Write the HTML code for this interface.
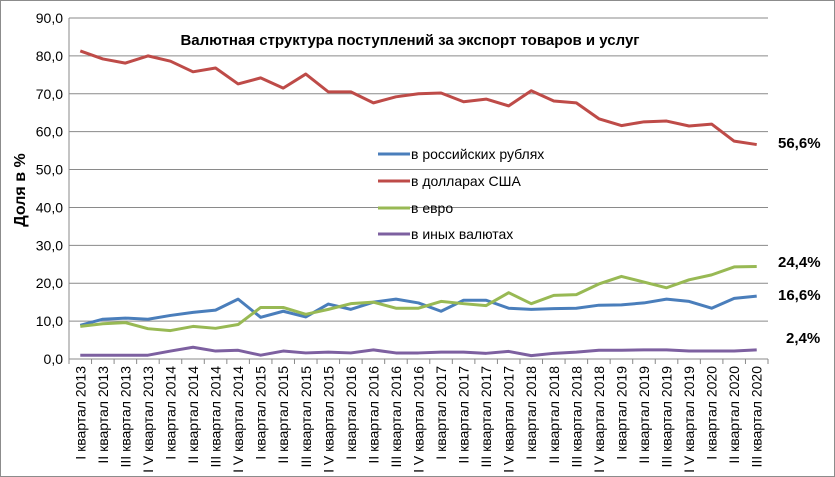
<!DOCTYPE html>
<html><head><meta charset="utf-8"><style>
body{margin:0;background:#fff}
svg{display:block;font-family:"Liberation Sans","DejaVu Sans",sans-serif}
</style></head><body>
<svg id="chart" width="835" height="477" viewBox="0 0 835 477">
<rect x="0.5" y="0.5" width="834" height="476" fill="#fff" stroke="#8c8c8c"/>
<text x="410" y="45" text-anchor="middle" font-weight="bold" font-size="15">Валютная структура поступлений за экспорт  товаров и услуг</text>
<text transform="translate(25,190) rotate(-90)" text-anchor="middle" font-weight="bold" font-size="16">Доля в %</text>
<g id="grid"></g><g id="lines"></g><g id="xl"></g>
<g>
<line x1="378" y1="154" x2="410" y2="154" stroke="#4a7ebb" stroke-width="3"/>
<text x="411" y="159" font-size="14">в российских рублях</text>
<line x1="378" y1="181" x2="410" y2="181" stroke="#be4b48" stroke-width="3"/>
<text x="411" y="186" font-size="14">в долларах США</text>
<line x1="378" y1="208" x2="410" y2="208" stroke="#98b954" stroke-width="3"/>
<text x="411" y="213" font-size="14">в евро</text>
<line x1="378" y1="234" x2="410" y2="234" stroke="#7d60a0" stroke-width="3"/>
<text x="411" y="239" font-size="14">в иных валютах</text>
</g>
<text x="778" y="148" font-weight="bold" font-size="15">56,6%</text>
<text x="778" y="267" font-weight="bold" font-size="15">24,4%</text>
<text x="778" y="300" font-weight="bold" font-size="15">16,6%</text>
<text x="786" y="343" font-weight="bold" font-size="15">2,4%</text>
</svg>
<script>
const years=[2013,2014,2015,2016,2017,2018,2019,2020];
const quarters=["I","II","III","IV"];
const categories=[];
for(const y of years)for(const q of quarters){if(categories.length<31)categories.push((q==="IV"?"I V":q)+" квартал "+y);}
const usd=[81.3,79.2,78.1,80.0,78.6,75.8,76.8,72.6,74.2,71.5,75.2,70.5,70.5,67.6,69.2,70.0,70.2,67.9,68.6,66.8,70.8,68.1,67.6,63.4,61.6,62.6,62.8,61.5,62.0,57.5,56.6];
const rub=[8.9,10.5,10.8,10.5,11.5,12.3,12.9,15.8,11.0,12.6,11.1,14.5,13.1,15.0,15.8,14.8,12.6,15.5,15.5,13.4,13.1,13.3,13.4,14.2,14.3,14.8,15.8,15.2,13.4,16.0,16.6];
const eur=[8.6,9.3,9.6,8.0,7.5,8.6,8.1,9.1,13.6,13.6,11.8,13.1,14.6,15.0,13.4,13.4,15.2,14.6,14.1,17.5,14.6,16.8,17.0,19.8,21.8,20.3,18.8,20.9,22.2,24.3,24.4];
const other=[1.0,1.0,1.0,1.0,2.1,3.1,2.1,2.3,1.0,2.1,1.6,1.8,1.6,2.4,1.6,1.6,1.8,1.8,1.5,2.0,0.9,1.5,1.8,2.3,2.3,2.4,2.4,2.1,2.1,2.1,2.4];
const yTicks=[0,10,20,30,40,50,60,70,80,90];
const NS="http://www.w3.org/2000/svg";
const L=69,R=768,T=18,B=359,yMax=90;
const bw=(R-L)/categories.length;
const xS=i=>L+bw*(i+0.5);
const yS=v=>B-(v/yMax)*(B-T);
function mk(t,a,p){const e=document.createElementNS(NS,t);for(const k in a)e.setAttribute(k,a[k]);p.appendChild(e);return e;}
const grid=document.getElementById('grid');
yTicks.forEach(v=>{
 const l=mk('line',{x1:L,x2:R,y1:yS(v),y2:yS(v),stroke:'#8a8a8a','stroke-width':1},grid);
 
 
 const t=mk('text',{x:L-6,y:yS(v)+5,'text-anchor':'end','font-size':14},grid);
 t.textContent=v.toFixed(1).replace('.',',');
 
 
});
const ax=mk('line',{x1:L,x2:L,y1:T,y2:B,stroke:'#8a8a8a'},grid);


const xl=document.getElementById('xl');
for(let i=0;i<=categories.length;i++){
 const x=L+bw*i;
 const tk=mk('line',{x1:x,x2:x,y1:B,y2:B+5,stroke:'#8a8a8a'},xl);
 
 
}
categories.forEach((c,i)=>{
 const t=mk('text',{transform:`translate(${xS(i)+5},366) rotate(-90)`,'text-anchor':'end','font-size':14},xl);
 t.textContent=c;
 
 
});
const lines=document.getElementById('lines');
[[usd,'#be4b48','line-usd'],[rub,'#4a7ebb','line-rub'],[eur,'#98b954','line-eur'],[other,'#7d60a0','line-other']].forEach(([d,c,n])=>{
 const p=mk('polyline',{points:d.map((v,i)=>xS(i)+','+yS(v)).join(' '),fill:'none',stroke:c,'stroke-width':3,'stroke-linejoin':'round'},lines);
 
 
});
</script>
</body></html>
